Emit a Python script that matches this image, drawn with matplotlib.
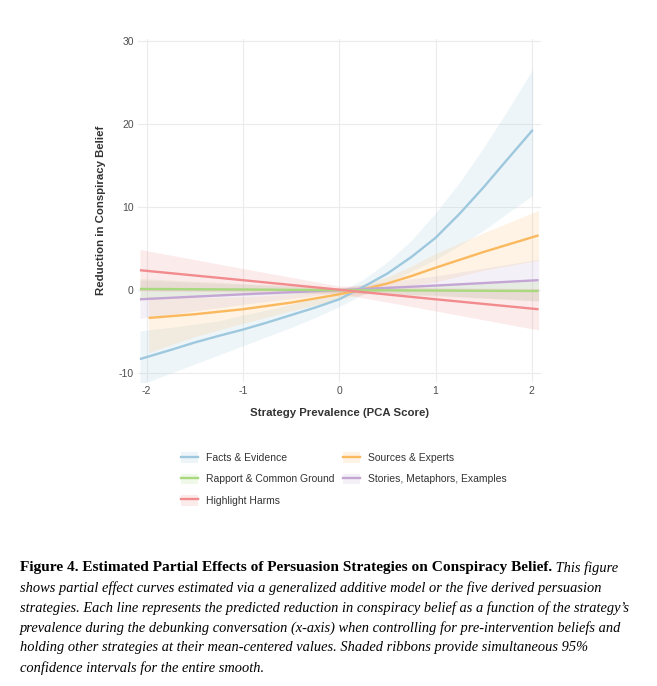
import matplotlib
matplotlib.use("Agg")
import matplotlib.pyplot as plt
from matplotlib.lines import Line2D
from matplotlib.patches import Patch

# ---- data ----
strategies = ["Facts & Evidence", "Rapport & Common Ground", "Highlight Harms",
              "Sources & Experts", "Stories, Metaphors, Examples"]
colors = ["#9dc8de", "#a9d97e", "#f28b8e", "#fbb95f", "#c3a6d4"]

facts_x = [-2.07, -1.75, -1.5, -1.25, -1.0, -0.75, -0.5, -0.25, 0.0, 0.25, 0.5,
           0.75, 1.0, 1.25, 1.5, 1.75, 2.01]
facts_y = [-8.3, -7.2, -6.3, -5.5, -4.75, -3.9, -3.0, -2.1, -1.1, 0.4, 2.0,
           4.0, 6.3, 9.2, 12.4, 15.8, 19.3]
facts_lo = [-11.4, -10.0, -8.9, -7.8, -6.7, -5.6, -4.5, -3.3, -2.0, -0.5, 0.9,
            2.3, 3.7, 5.4, 7.2, 9.3, 11.4]
facts_hi = [-4.9, -4.5, -4.1, -3.7, -3.0, -2.4, -1.7, -1.0, -0.2, 1.3, 3.4,
            6.0, 9.3, 13.0, 17.2, 21.7, 26.6]

rapport_x = [-2.07, -1.0, 0.0, 1.0, 2.07]
rapport_y = [0.15, 0.08, 0.0, -0.05, -0.1]
rapport_lo = [-1.1, -0.6, -0.3, -0.7, -1.3]
rapport_hi = [1.4, 0.8, 0.3, 0.6, 1.1]

harms_x = [-2.07, -1.0, 0.0, 1.0, 2.07]
harms_y = [2.4, 1.2, 0.05, -1.1, -2.3]
harms_lo = [-0.1, -0.2, -0.4, -2.5, -4.8]
harms_hi = [4.9, 2.6, 0.5, 0.3, 0.2]

sources_x = [-1.98, -1.5, -1.0, -0.5, 0.0, 0.25, 0.5, 0.75, 1.0, 1.5, 2.07]
sources_y = [-3.35, -2.9, -2.3, -1.5, -0.5, 0.1, 0.8, 1.7, 2.7, 4.6, 6.6]
sources_lo = [-7.5, -5.6, -4.0, -2.5, -1.1, -0.5, 0.1, 0.6, 1.0, 2.4, 3.6]
sources_hi = [-0.8, -0.9, -0.8, -0.5, 0.1, 0.7, 1.6, 2.9, 4.4, 6.9, 9.6]

stories_x = [-2.07, -1.0, 0.0, 1.0, 2.07]
stories_y = [-1.1, -0.5, 0.0, 0.55, 1.2]
stories_lo = [-3.4, -1.7, -0.3, -0.6, -1.3]
stories_hi = [1.2, 0.7, 0.3, 1.7, 3.7]

series = [
    (facts_x, facts_y, facts_lo, facts_hi),
    (rapport_x, rapport_y, rapport_lo, rapport_hi),
    (harms_x, harms_y, harms_lo, harms_hi),
    (sources_x, sources_y, sources_lo, sources_hi),
    (stories_x, stories_y, stories_lo, stories_hi),
]
draw_order = [0, 3, 4, 1, 2]

x_ticks = [-2, -1, 0, 1, 2]
y_ticks = [-10, 0, 10, 20, 30]

caption_bold = "Figure 4. Estimated Partial Effects of Persuasion Strategies on Conspiracy Belief."
caption_lines = [
    " This figure",
    "shows partial effect curves estimated via a generalized additive model or the five derived persuasion",
    "strategies. Each line represents the predicted reduction in conspiracy belief as a function of the strategy\u2019s",
    "prevalence during the debunking conversation (x-axis) when controlling for pre-intervention beliefs and",
    "holding other strategies at their mean-centered values. Shaded ribbons provide simultaneous 95%",
    "confidence intervals for the entire smooth.",
]

# ---- figure ----
plt.rcParams["font.family"] = ["Liberation Sans", "DejaVu Sans"]
plt.rcParams["axes.unicode_minus"] = False
W, H = 657, 686
fig = plt.figure(figsize=(W / 100, H / 100), dpi=100)
ax = fig.add_axes([138 / W, 1 - 381.5 / H, 402.5 / W, 343 / H])

for i in draw_order:
    x, y, lo, hi = series[i]
    ax.fill_between(x, lo, hi, color=colors[i], alpha=0.17, linewidth=0)
for i in draw_order:
    x, y, lo, hi = series[i]
    ax.plot(x, y, color=colors[i], linewidth=1.7, solid_capstyle="butt",
            solid_joinstyle="round")

ax.set_xlim(-2.09, 2.09)
ax.set_ylim(-11.0, 30.3)
ax.set_xticks(x_ticks)
ax.set_yticks(y_ticks)
ax.grid(True, color="#ebebeb", linewidth=0.8)
ax.set_axisbelow(True)
for s in ax.spines.values():
    s.set_visible(False)
ax.tick_params(length=0, labelsize=7.5, labelcolor="#4d4d4d", pad=3)
ax.set_xlabel("Strategy Prevalence (PCA Score)", fontsize=8.2, fontweight="bold",
              color="#333333", labelpad=9)
ax.set_ylabel("Reduction in Conspiracy Belief", fontsize=8.2, fontweight="bold",
              color="#333333", labelpad=9)

handles = [(Patch(facecolor=colors[i], alpha=0.17, edgecolor="none"),
            Line2D([], [], color=colors[i], linewidth=1.7)) for i in range(5)]
fig.legend(handles, strategies, ncol=2, loc="upper left",
           bbox_to_anchor=(172 / W, 1 - 443 / H), frameon=False, fontsize=7.5,
           handlelength=1.6, handleheight=1.2, handletextpad=0.8,
           columnspacing=0.8, labelspacing=1.0, labelcolor="#333333")

# ---- caption ----
serif = ["Liberation Serif", "DejaVu Serif"]
bold_size = 11.05
ital_size = 10.35
x0 = 20 / W
y_first = 1 - 568 / H
t = fig.text(x0, y_first, caption_bold, family=serif, fontweight="bold",
             fontsize=bold_size, va="center", ha="left", color="black")
fig.canvas.draw()
bb = t.get_window_extent(renderer=fig.canvas.get_renderer())
fig.text(bb.x1 / W, y_first, caption_lines[0], family=serif, style="italic",
         fontsize=ital_size, va="center", ha="left", color="black")
for k, line in enumerate(caption_lines[1:], start=1):
    fig.text(x0, 1 - (568 + 20 * k) / H, line, family=serif, style="italic",
             fontsize=ital_size, va="center", ha="left", color="black")

fig.savefig("out.png", dpi=100, facecolor="white")
